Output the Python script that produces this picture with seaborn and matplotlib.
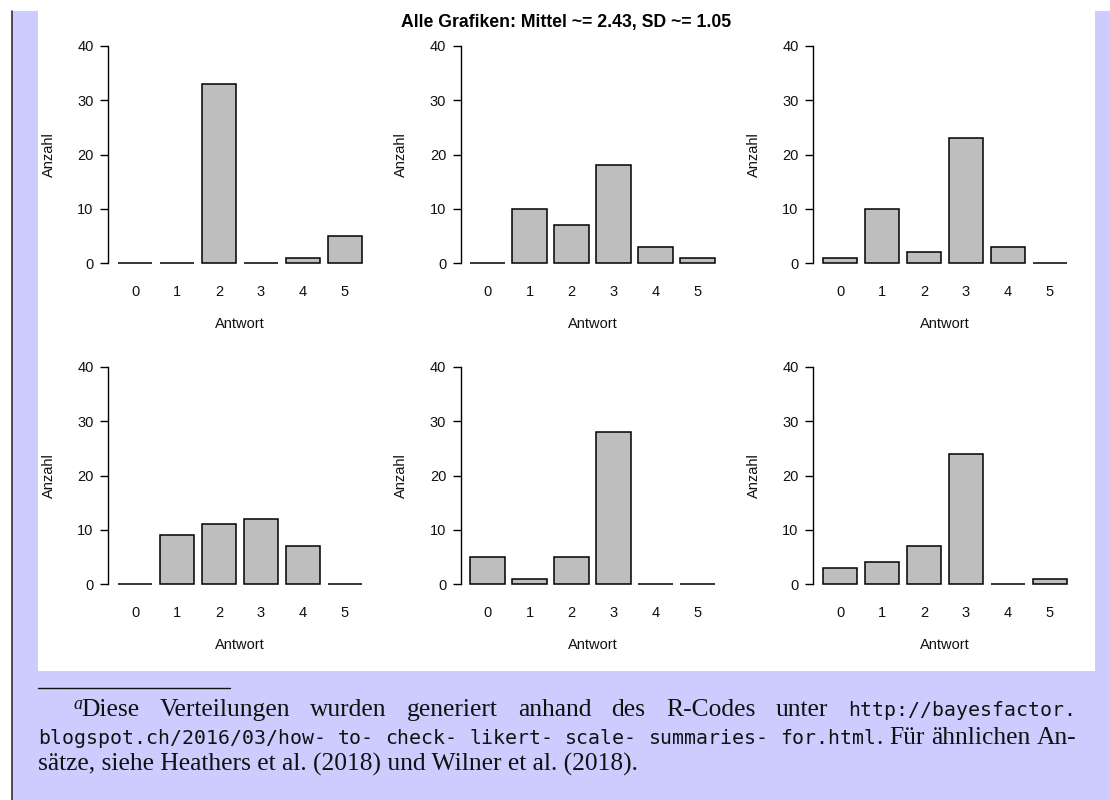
import matplotlib
matplotlib.use("Agg")
import matplotlib.pyplot as plt
import seaborn as sns
import pandas as pd
from matplotlib.patches import Rectangle
from matplotlib.lines import Line2D

# ---------------- data ----------------
answers = ["0", "1", "2", "3", "4", "5"]
counts_1 = [0, 0, 33, 0, 1, 5]
counts_2 = [0, 10, 7, 18, 3, 1]
counts_3 = [1, 10, 2, 23, 3, 0]
counts_4 = [0, 9, 11, 12, 7, 0]
counts_5 = [5, 1, 5, 28, 0, 0]
counts_6 = [3, 4, 7, 24, 0, 1]
y_ticks = [0, 10, 20, 30, 40]
title = "Alle Grafiken: Mittel ~= 2.43, SD ~= 1.05"
x_label = "Antwort"
y_label = "Anzahl"
foot_line1_serif = ["Diese", "Verteilungen", "wurden", "generiert", "anhand", "des", "R-Codes", "unter"]
foot_line1_mono = "http://bayesfactor."
foot_line2_mono = ["blogspot.ch/2016/03/how-", "to-", "check-", "likert-", "scale-", "summaries-", "for.html"]
foot_line2_serif = ["Für", "ähnlichen", "An-"]
foot_line3 = "sätze, siehe Heathers et al. (2018) und Wilner et al. (2018)."

all_counts = [counts_1, counts_2, counts_3, counts_4, counts_5, counts_6]

sns.set_theme(style="white")
plt.rcParams["font.family"] = ["Liberation Sans", "DejaVu Sans"]

W, H = 1110, 800
fig = plt.figure(figsize=(W / 100, H / 100), dpi=100)
fig.patch.set_facecolor("white")


def fx(px):
    return px / W


def fy(py):
    return 1 - py / H


# backgrounds
fig.add_artist(Rectangle((fx(12), 0), 1 - fx(12), fy(11), transform=fig.transFigure,
                         facecolor="#ccccff", edgecolor="none", zorder=-10))
fig.add_artist(Rectangle((fx(38), fy(671)), fx(1095) - fx(38), fy(11) - fy(671),
                         transform=fig.transFigure, facecolor="white", edgecolor="none", zorder=-9))
fig.add_artist(Line2D([fx(11.5), fx(11.5)], [0, fy(11)], transform=fig.transFigure,
                      color="#333333", lw=1.2, zorder=-8))

base_fs = 10.5
ax_w, ax_h = 264.0, 234.4
for i, cnt in enumerate(all_counts):
    r, c = divmod(i, 3)
    left = 108 + c * 352.5
    top = 37.3 + r * 321
    ax = fig.add_axes([fx(left), fy(top + ax_h), ax_w / W, ax_h / H])
    ax.patch.set_alpha(0)
    df = pd.DataFrame({"Antwort": answers, "Anzahl": cnt})
    sns.barplot(data=df, x="Antwort", y="Anzahl", order=answers, ax=ax,
                color="#bebebe", saturation=1, edgecolor="black", linewidth=1.1,
                width=0.833)
    ax.set_xlim(-0.643, 5.643)
    ax.set_ylim(-1.6, 41.6)
    ax.set_yticks(y_ticks)
    ax.set_xlabel("")
    ax.set_ylabel("")
    for s in ["top", "right", "bottom"]:
        ax.spines[s].set_visible(False)
    ax.spines["left"].set_bounds(0, 40)
    ax.spines["left"].set_color("black")
    ax.spines["left"].set_linewidth(1.0)
    ax.tick_params(axis="y", left=True, length=6, width=1.0, color="black",
                   pad=4.3, labelsize=base_fs, labelcolor="#111111")
    ax.tick_params(axis="x", bottom=True, length=0, pad=9.4, labelsize=base_fs,
                   labelcolor="#111111")
    ax.text(0.5, -0.223, x_label, transform=ax.transAxes, ha="center", va="center",
            fontsize=base_fs, color="#111111")
    ax.text(-0.225, 0.5, y_label, transform=ax.transAxes, ha="center", va="center",
            rotation=90, fontsize=base_fs, color="#111111")

fig.text(fx(566.5), fy(22), title, ha="center", va="center", fontsize=12.7,
         fontweight="bold", color="black")

# ---------------- footnote ----------------
rend = fig.canvas.get_renderer()


def text_w(s, **kw):
    t = fig.text(0, 0, s, **kw)
    w = t.get_window_extent(renderer=rend).width
    t.remove()
    return w


serif_fam = "Liberation Serif"
mono_fam = "DejaVu Sans Mono"
ss = 16 * 602 / text_w(foot_line3, family=serif_fam, fontsize=16)
ms = 14 * 228 / text_w(foot_line1_mono, family=mono_fam, fontsize=14)
serif = dict(family=serif_fam, fontsize=ss, color="#111111")
mono = dict(family=mono_fam, fontsize=ms, color="#111111")
space_w = text_w("a b", **serif) - text_w("ab", **serif)

fig.add_artist(Line2D([fx(38), fx(230)], [fy(687.5), fy(687.5)], transform=fig.transFigure,
                      color="#111111", lw=1.0))

right_edge = 1076
b1, b2, b3 = 716, 744, 771

# line 1
fig.text(fx(73), fy(b1 - 7), "a", family=serif_fam, fontsize=ss * 0.7, style="italic",
         color="#111111", ha="left", va="baseline")
segs1 = [(w, serif) for w in foot_line1_serif] + [(foot_line1_mono, mono)]
widths1 = [text_w(s, **f) for s, f in segs1]
x0 = 81
gap1 = (right_edge - x0 - sum(widths1)) / (len(segs1) - 1)
x = x0
for (s, f), w in zip(segs1, widths1):
    fig.text(fx(x), fy(b1), s, ha="left", va="baseline", **f)
    x += w + gap1

# line 2: (text, font, glue type); stretch goes into the url break points
segs2 = [(foot_line2_mono[0], mono, None)]
segs2 += [(s, mono, "h") for s in foot_line2_mono[1:]]
segs2 += [(".", serif, "a")]
segs2 += [(s, serif, "w") for s in foot_line2_serif]
widths2 = [text_w(s, **f) for s, f, g in segs2]
natural = sum(widths2) + sum(space_w for s, f, g in segs2 if g == "w")
n_stretch = sum(1 for s, f, g in segs2 if g == "h")
extra = (right_edge - 38 - natural) / n_stretch
x = 38
for (s, f, g), w in zip(segs2, widths2):
    if g == "h":
        x += extra
    elif g == "w":
        x += space_w
    fig.text(fx(x), fy(b2), s, ha="left", va="baseline", **f)
    x += w

# line 3
fig.text(fx(38), fy(b3), foot_line3, ha="left", va="baseline", **serif)

fig.savefig("out.png", dpi=100)
